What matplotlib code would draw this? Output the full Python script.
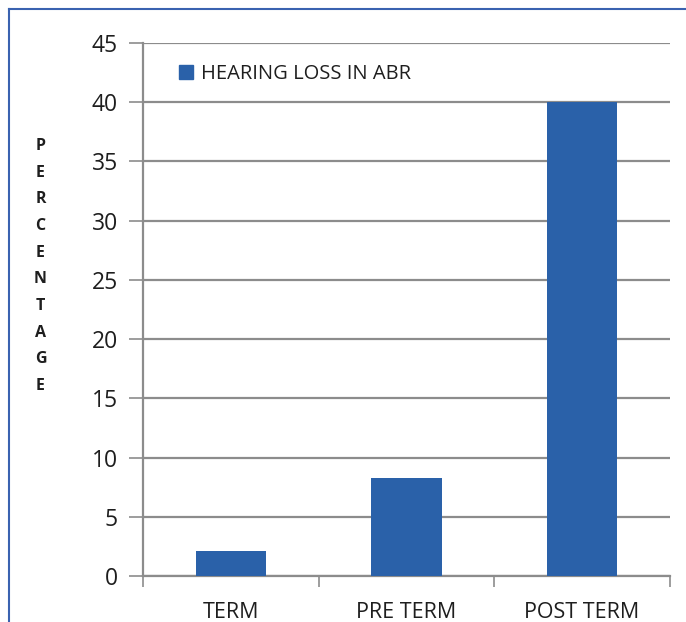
import matplotlib.pyplot as plt
from matplotlib.lines import Line2D
from matplotlib.patches import Patch

# Dados do gráfico
categorias = ['TERM', 'PRE TERM', 'POST TERM']
perda_auditiva = [2.1, 8.3, 40.0]
serie = 'HEARING LOSS IN ABR'
ticks_y = [0, 5, 10, 15, 20, 25, 30, 35, 40, 45]

plt.rcParams['font.family'] = ['Open Sans', 'DejaVu Sans']

azul = '#2a61a9'
cinza = '#8c8c8c'

fig = plt.figure(figsize=(6.86, 6.22), dpi=100)
ax = fig.add_axes([0.2085, 0.074, 0.768, 0.857])

x = range(len(categorias))
ax.bar(x, perda_auditiva, width=0.4, color=azul, zorder=3)

ax.set_xlim(-0.5, 2.5)
ax.set_ylim(0, 45)
ax.set_yticks(ticks_y)
ax.yaxis.grid(True, color=cinza, linewidth=1.6, zorder=0)

# ticks das categorias nas fronteiras
ax.set_xticks([-0.5, 0.5, 1.5, 2.5])
ax.set_xticklabels([])
ax.set_xticks(list(x), minor=True)
ax.set_xticklabels(categorias, minor=True, fontsize=15.5, color='#1e1e1e')
ax.tick_params(axis='x', which='minor', length=0, pad=19)
ax.tick_params(axis='x', which='major', length=8, width=1.2, color=cinza, direction='out')
ax.tick_params(axis='y', length=10, width=1.2, color=cinza, labelsize=16.5,
               labelcolor='#1e1e1e', pad=8)

for lado in ['top', 'right']:
    ax.spines[lado].set_visible(False)
for lado in ['left', 'bottom']:
    ax.spines[lado].set_color(cinza)
    ax.spines[lado].set_linewidth(1.6)

# Legenda
leg = ax.legend(handles=[Patch(color=azul, label=serie)], loc='upper left',
                bbox_to_anchor=(0.033, 0.995), frameon=False, fontsize=14.5,
                handlelength=0.7, handleheight=0.7, handletextpad=0.4)
for t in leg.get_texts():
    t.set_color('#1e1e1e')

# Rótulo vertical letra por letra
rotulo = 'PERCENTAGE'
for i, letra in enumerate(rotulo):
    fig.text(0.059, 0.765 - i * 0.0428, letra, fontsize=11.5, fontweight='bold',
             ha='center', va='center', color='#1e1e1e')

# Moldura azul
fig.add_artist(Line2D([0.013, 1.0], [0.9855, 0.9855], transform=fig.transFigure,
                      color='#3a62b0', linewidth=1.5))
fig.add_artist(Line2D([0.013, 0.013], [0.0, 0.9855], transform=fig.transFigure,
                      color='#3a62b0', linewidth=1.5))

fig.savefig('out.png', dpi=100)
